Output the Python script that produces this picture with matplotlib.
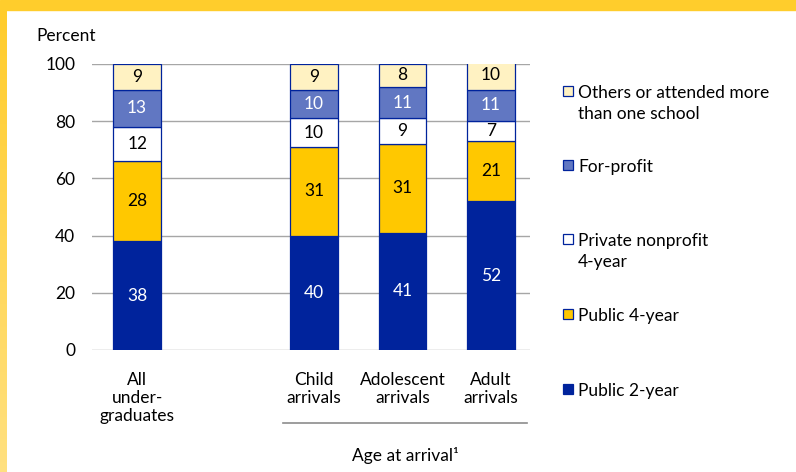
import numpy as np
import matplotlib.pyplot as plt
from matplotlib.patches import Rectangle

plt.rcParams['font.family'] = ['Lato', 'DejaVu Sans']
FS = 12.5

groups = ['All\nunder-\ngraduates', 'Child\narrivals', 'Adolescent\narrivals', 'Adult\narrivals']
xpos = [0, 2, 3, 4]

public_2yr = [38, 40, 41, 52]
public_4yr = [28, 31, 31, 21]
private_np = [12, 10, 9, 7]
for_profit = [13, 10, 11, 11]
others = [9, 9, 8, 10]

series = [
    ('Public 2-year', public_2yr, '#00239C', 'white'),
    ('Public 4-year', public_4yr, '#FFC800', 'black'),
    ('Private nonprofit\n4-year', private_np, '#FFFFFF', 'black'),
    ('For-profit', for_profit, '#6177C2', 'white'),
    ('Others or attended more\nthan one school', others, '#FFF2C2', 'black'),
]

fig = plt.figure(figsize=(7.96, 4.72), dpi=100)

# yellow frame: solid top band, fading band down the left side
fig.patches.append(Rectangle((0, 1 - 10 / 472), 1, 10 / 472, transform=fig.transFigure,
                             color='#FFCD2C', zorder=0))
grad_ax = fig.add_axes([0, 0, 7 / 796, 1 - 10 / 472])
grad = np.linspace(0, 1, 200).reshape(-1, 1)
c_top = np.array([1.0, 0.80, 0.17])
c_bot = np.array([1.0, 0.88, 0.50])
img = c_top + (c_bot - c_top) * grad[..., None]
grad_ax.imshow(img, aspect='auto', extent=[0, 1, 0, 1])
grad_ax.axis('off')

ax = fig.add_axes([92 / 796, (472 - 350) / 472, (530 - 92) / 796, (350 - 64) / 472])

bottom = np.zeros(len(xpos))
for name, vals, color, tcolor in series:
    vals = np.array(vals, dtype=float)
    bars = ax.bar(xpos, vals, bottom=bottom, width=0.54, color=color,
                  edgecolor='#00239C', linewidth=0.9, zorder=3)
    for b, v, y0 in zip(bars, vals, bottom):
        ax.text(b.get_x() + b.get_width() / 2, y0 + v / 2, f'{int(v)}',
                ha='center', va='center', color=tcolor, fontsize=FS, zorder=4)
    bottom += vals

ax.set_xlim(-0.51, 4.44)
ax.set_ylim(0, 100)
ax.set_yticks(range(0, 101, 20))
ax.yaxis.grid(True, color='#A6A6A6', linewidth=1.0, zorder=0)
ax.set_axisbelow(True)
for s in ax.spines.values():
    s.set_visible(False)
ax.tick_params(axis='y', length=0, labelsize=FS, pad=12)
ax.tick_params(axis='x', length=0, labelsize=FS, pad=16)
ax.set_xticks(xpos)
ax.set_xticklabels(groups, linespacing=1.15, va='top')

fig.text(36 / 796, 1 - 36 / 472, 'Percent', fontsize=FS, va='center', ha='left')

# bracket line and label for the age groups
fig.add_artist(plt.Line2D([283 / 796, 527 / 796], [1 - 423 / 472, 1 - 423 / 472],
                          color='#8C8C8C', linewidth=1.2))
fig.text(405 / 796, 1 - 455 / 472, 'Age at arrival\u00b9', fontsize=FS,
         ha='center', va='center')

# legend drawn by hand
legend_y = [91, 165, 239, 314, 389]
for (name, vals, color, tcolor), ly in zip(series[::-1], legend_y):
    fig.patches.append(Rectangle((563 / 796, 1 - (ly + 5) / 472), 10 / 796, 10 / 472,
                                 transform=fig.transFigure, facecolor=color,
                                 edgecolor='#00239C', linewidth=0.9))
    fig.text(578 / 796, 1 - (ly - 6) / 472, name, fontsize=FS, ha='left', va='top',
             linespacing=1.4)

fig.savefig('out.png', dpi=100)
